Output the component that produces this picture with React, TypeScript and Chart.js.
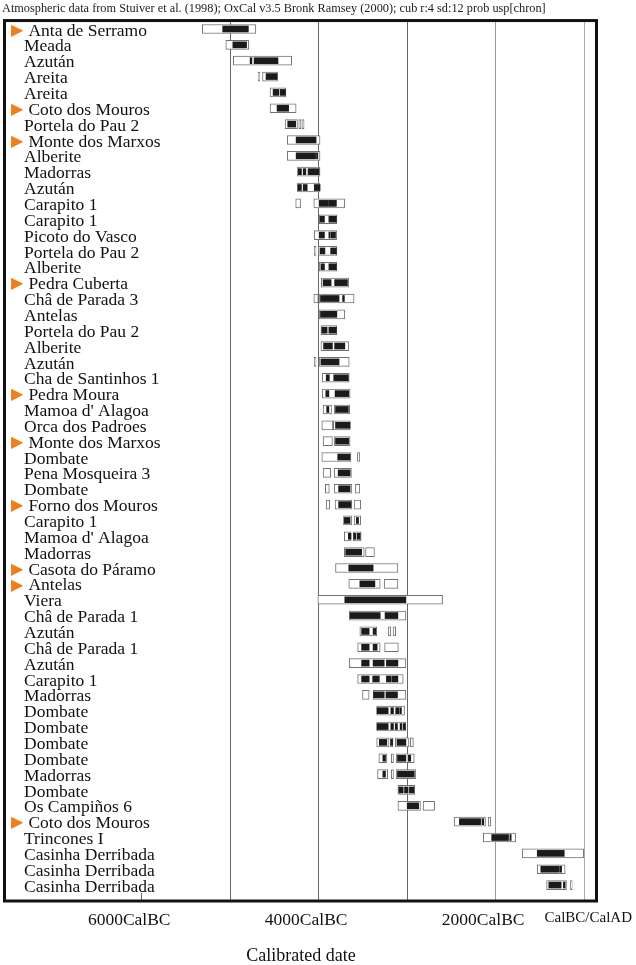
import React, { useEffect, useRef } from 'react';
import { Chart, registerables } from 'chart.js';

Chart.register(...registerables);

// ---------- data ----------
const headerText =
  'Atmospheric data from Stuiver et al. (1998); OxCal v3.5 Bronk Ramsey (2000); cub r:4 sd:12 prob usp[chron]';
const axisTitle = 'Calibrated date';

const siteLabels = [
  'Anta de Serramo', 'Meada', 'Azután', 'Areita', 'Areita', 'Coto dos Mouros', 'Portela do Pau 2',
  'Monte dos Marxos', 'Alberite', 'Madorras', 'Azután', 'Carapito 1', 'Carapito 1', 'Picoto do Vasco',
  'Portela do Pau 2', 'Alberite', 'Pedra Cuberta', 'Châ de Parada 3', 'Antelas', 'Portela do Pau 2',
  'Alberite', 'Azután', 'Cha de Santinhos 1', 'Pedra Moura', "Mamoa d' Alagoa", 'Orca dos Padroes',
  'Monte dos Marxos', 'Dombate', 'Pena Mosqueira 3', 'Dombate', 'Forno dos Mouros', 'Carapito 1',
  "Mamoa d' Alagoa", 'Madorras', 'Casota do Páramo', 'Antelas', 'Viera', 'Châ de Parada 1', 'Azután',
  'Châ de Parada 1', 'Azután', 'Carapito 1', 'Madorras', 'Dombate', 'Dombate', 'Dombate', 'Dombate',
  'Madorras', 'Dombate', 'Os Campiños 6', 'Coto dos Mouros', 'Trincones I', 'Casinha Derribada',
  'Casinha Derribada', 'Casinha Derribada',
];

// rows marked with the orange triangle
const flaggedRows = [0, 5, 7, 16, 23, 26, 30, 34, 35, 50];

// 95.4% ranges (cal BC, from -> to) per row
const range95: number[][][] = [
  [[5315, 4710]],
  [[5050, 4790]],
  [[4965, 4305]],
  [[4685, 4665], [4635, 4465]],
  [[4550, 4370]],
  [[4550, 4255]],
  [[4380, 4240], [4225, 4200], [4190, 4165]],
  [[4355, 3985]],
  [[4355, 3985]],
  [[4240, 3985]],
  [[4240, 3985]],
  [[4260, 4205], [4055, 3705]],
  [[3995, 3795]],
  [[4050, 3795]],
  [[4050, 4030], [4005, 3795]],
  [[3995, 3795]],
  [[3970, 3660]],
  [[4055, 4005], [3995, 3600]],
  [[3995, 3705]],
  [[3975, 3795]],
  [[3975, 3660]],
  [[4050, 4030], [3995, 3655]],
  [[3960, 3655]],
  [[3960, 3645]],
  [[3950, 3855], [3825, 3650]],
  [[3965, 3840], [3835, 3645]],
  [[3950, 3845], [3825, 3645]],
  [[3965, 3635], [3565, 3535]],
  [[3950, 3865], [3825, 3630]],
  [[3925, 3880], [3825, 3625], [3585, 3535]],
  [[3915, 3875], [3815, 3625], [3600, 3525]],
  [[3720, 3625], [3600, 3525]],
  [[3710, 3635], [3610, 3520]],
  [[3710, 3485], [3470, 3370]],
  [[3810, 3105]],
  [[3660, 3305], [3260, 3105]],
  [[4010, 2600]],
  [[3655, 3015]],
  [[3535, 3345], [3215, 3185], [3160, 3130]],
  [[3560, 3305], [3255, 3100]],
  [[3655, 3015]],
  [[3560, 3045]],
  [[3505, 3430], [3385, 3015]],
  [[3345, 3030]],
  [[3345, 3015]],
  [[3345, 3205], [3190, 3160], [3135, 2980], [2965, 2930]],
  [[3320, 3230], [3180, 3155], [3125, 2920]],
  [[3335, 3220], [3180, 3155], [3125, 2905]],
  [[3105, 2915]],
  [[3105, 2850], [2820, 2690]],
  [[2470, 2115], [2085, 2055]],
  [[2140, 1775]],
  [[1700, 1005]],
  [[1530, 1215]],
  [[1425, 1200], [1155, 1135]],
];

// 68.2% ranges (cal BC, from -> to) per row
const range68: number[][][] = [
  [[5085, 4795]],
  [[4970, 4815]],
  [[4775, 4755], [4730, 4460]],
  [[4595, 4470]],
  [[4515, 4450], [4435, 4375]],
  [[4470, 4340]],
  [[4350, 4260]],
  [[4255, 4030]],
  [[4255, 4035], [4025, 4010]],
  [[4230, 4195], [4175, 4145], [4120, 3995]],
  [[4235, 4195], [4175, 4130], [4050, 3985]],
  [[3995, 3890], [3885, 3800]],
  [[3985, 3935], [3885, 3800]],
  [[3995, 3935], [3885, 3870], [3860, 3810]],
  [[3985, 3930], [3865, 3800]],
  [[3975, 3935], [3885, 3800]],
  [[3950, 3860], [3820, 3695], [3690, 3675]],
  [[3980, 3770], [3730, 3710]],
  [[3980, 3795]],
  [[3965, 3905], [3885, 3800]],
  [[3945, 3845], [3820, 3705]],
  [[3975, 3770]],
  [[3915, 3880], [3830, 3665]],
  [[3920, 3885], [3815, 3660]],
  [[3910, 3885], [3810, 3665]],
  [[3810, 3645]],
  [[3810, 3660]],
  [[3785, 3645]],
  [[3780, 3645]],
  [[3775, 3645]],
  [[3775, 3635]],
  [[3710, 3645], [3575, 3550]],
  [[3665, 3635], [3605, 3580], [3565, 3530]],
  [[3695, 3515]],
  [[3660, 3385]],
  [[3535, 3365]],
  [[3705, 3015]],
  [[3645, 3305], [3250, 3105]],
  [[3515, 3430], [3385, 3355]],
  [[3515, 3430], [3385, 3340]],
  [[3515, 3430], [3385, 3260], [3235, 3105]],
  [[3515, 3430], [3390, 3315], [3235, 3180], [3170, 3105]],
  [[3380, 3260], [3240, 3110]],
  [[3340, 3215], [3185, 3155], [3130, 3090], [3080, 3065]],
  [[3340, 3215], [3185, 3155], [3135, 3110], [3080, 3060], [3045, 3020]],
  [[3315, 3230], [3185, 3165], [3115, 3015]],
  [[3275, 3245], [3110, 3015], [2990, 2960]],
  [[3275, 3245], [3110, 2920]],
  [[3095, 3045], [3030, 2990], [2975, 2925]],
  [[3000, 2870]],
  [[2410, 2170], [2155, 2135]],
  [[2045, 1855], [1840, 1825]],
  [[1530, 1225]],
  [[1490, 1280], [1270, 1255]],
  [[1400, 1260], [1235, 1215]],
];

const gridYears = [6000, 5000, 4000, 3000, 2000, 1000];
const gridLabels = ['6000CalBC', '', '4000CalBC', '', '2000CalBC', ''];
const eraLabel = 'CalBC/CalAD';
const xOldestBC = 7545;
const xYoungestBC = 855;

// ---------- styling ----------
const serif = "'Liberation Serif', 'Times New Roman', serif";
const gridShades = ['rgba(0,0,0,0)', '#666', '#666', '#666', '#9a9a9a', '#aaa', 'rgba(0,0,0,0)'];
const tickShades = ['#666', '#666', '#666', '#666', '#9a9a9a', '#aaa', 'rgba(0,0,0,0)'];

const zeroPad = (s: any) => {
  s.paddingLeft = 0;
  s.paddingRight = 0;
  s.paddingTop = 0;
  s.paddingBottom = 0;
};

const framePlugin = {
  id: 'oxcalFrame',
  afterDraw(chart: any) {
    const { ctx, chartArea: a } = chart;
    ctx.save();
    ctx.strokeStyle = '#111';
    ctx.lineWidth = 3;
    ctx.strokeRect(a.left - 0.5, a.top - 0.5, a.right - a.left, a.bottom + 8 - (a.top - 0.5));
    ctx.restore();
  },
};

function buildDatasets() {
  const maxOuter = Math.max(...range95.map((r) => r.length));
  const maxInner = Math.max(...range68.map((r) => r.length));
  const sets: any[] = [];
  for (let k = 0; k < maxInner; k++) {
    sets.push({
      label: '68.2% ' + (k + 1),
      data: range68.map((r) => (r[k] ? [r[k][0], r[k][1]] : null)),
      backgroundColor: '#1b1b1b',
      borderColor: '#1b1b1b',
      borderWidth: 0,
      borderSkipped: false,
      barThickness: 6,
      grouped: false,
      order: 0,
      yAxisID: 'y',
    });
  }
  for (let k = 0; k < maxOuter; k++) {
    sets.push({
      label: '95.4% ' + (k + 1),
      data: range95.map((r) => (r[k] ? [r[k][0], r[k][1]] : null)),
      backgroundColor: '#ffffff',
      borderColor: '#727272',
      borderWidth: 1,
      borderSkipped: false,
      barThickness: 9,
      grouped: false,
      order: 1,
      yAxisID: 'y',
    });
  }
  return sets;
}

export default function App() {
  const canvasRef = useRef<HTMLCanvasElement | null>(null);

  useEffect(() => {
    if (!canvasRef.current) return;
    const chart = new Chart(canvasRef.current, {
      type: 'bar',
      data: { labels: siteLabels, datasets: buildDatasets() },
      plugins: [framePlugin],
      options: {
        indexAxis: 'y',
        responsive: false,
        animation: false,
        devicePixelRatio: 1,
        layout: { padding: { left: 2, right: 39, top: 0, bottom: 0 } },
        plugins: {
          legend: { display: false },
          tooltip: { enabled: false },
          title: {
            display: true,
            text: headerText,
            align: 'start',
            color: '#222',
            font: { family: serif, size: 12.3, weight: 'normal', lineHeight: 1.2 },
            padding: { top: 1, bottom: 5.3 },
          },
        },
        scales: {
          x: {
            type: 'linear',
            reverse: true,
            min: xYoungestBC,
            max: xOldestBC,
            position: 'bottom',
            afterBuildTicks: (s: any) => {
              s.ticks = [...gridYears, xYoungestBC].map((v) => ({ value: v }));
            },
            afterFit: zeroPad,
            border: { display: false },
            grid: {
              color: (c: any) => gridShades[c.index] ?? 'rgba(0,0,0,0)',
              tickColor: (c: any) => tickShades[c.index] ?? 'rgba(0,0,0,0)',
              tickLength: 8,
              lineWidth: 1,
            },
            ticks: {
              autoSkip: false,
              maxRotation: 0,
              minRotation: 0,
              labelOffset: -12.5,
              padding: 8.5,
              color: '#111',
              font: (c: any) =>
                c.index === gridYears.length
                  ? { family: serif, size: 15 }
                  : { family: serif, size: 17.5 },
              callback: (_v: any, i: number) =>
                i < gridYears.length ? gridLabels[i] : '\u2002' + eraLabel,
            },
            title: {
              display: true,
              text: axisTitle,
              color: '#111',
              font: { family: serif, size: 18, lineHeight: 1 },
              padding: { top: 8, bottom: 0 },
            },
          },
          y: {
            type: 'category',
            labels: siteLabels,
            position: 'left',
            offset: true,
            weight: 0,
            grid: { display: false, drawTicks: false },
            border: { display: false },
            afterFit: (s: any) => {
              zeroPad(s);
              s.width = 3;
            },
            ticks: {
              mirror: true,
              padding: 19,
              labelOffset: 2,
              autoSkip: false,
              color: '#111',
              font: { family: serif, size: 17.5 },
              callback: (_v: any, i: number) => (flaggedRows.includes(i) ? ' ' : '') + siteLabels[i],
            },
          },
          y2: {
            type: 'category',
            labels: siteLabels.map((_, i) => (flaggedRows.includes(i) ? '\u25B6' : '')),
            position: 'left',
            offset: true,
            weight: 1,
            grid: { display: false, drawTicks: false },
            border: { display: false },
            afterFit: (s: any) => {
              zeroPad(s);
              s.width = 0;
            },
            ticks: {
              mirror: true,
              padding: 9,
              labelOffset: 1.5,
              autoSkip: false,
              color: '#EE7F1B',
              font: { family: "'DejaVu Sans', sans-serif", size: 16 },
            },
          },
        },
      } as any,
    });
    return () => chart.destroy();
  }, []);

  return (
    <div style={{ position: 'fixed', left: 0, top: 0, width: 636, height: 965, background: '#fff' }}>
      <canvas ref={canvasRef} width={636} height={965} />
    </div>
  );
}
